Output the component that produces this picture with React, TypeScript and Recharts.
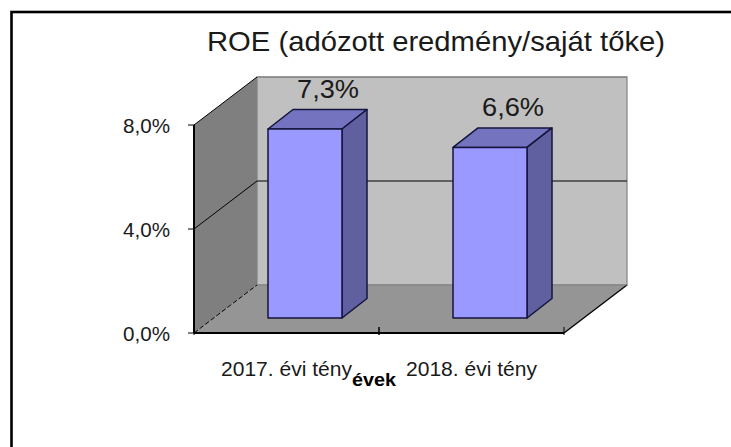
import { Bar, BarChart, CartesianGrid, Label, LabelList, XAxis, YAxis } from "recharts";

const categories = ["2017. évi tény", "2018. évi tény"];
const roeValues = [7.27, 6.56];
const yTicks = [0, 4, 8];
const title = "ROE (adózott eredmény/saját tőke)";
const xAxisTitle = "évek";

const data = categories.map((name, i) => ({ name, roe: roeValues[i] }));

const WIDTH = 731;
const HEIGHT = 447;
const MARGIN = { left: 134, right: 167, top: 125, bottom: 74 };
const Y_AXIS_WIDTH = 60;
const X_AXIS_HEIGHT = 40;

// front plane of the box, as the chart lays it out
const LEFT = MARGIN.left + Y_AXIS_WIDTH;
const RIGHT = WIDTH - MARGIN.right;
const TOP = MARGIN.top;
const BOTTOM = HEIGHT - MARGIN.bottom - X_AXIS_HEIGHT;

// depth of the fake 3D box and of the bars standing inside it
const DEPTH_X = 63;
const DEPTH_Y = -48;
const BAR_SHIFT_X = 18.5;
const BAR_SHIFT_Y = -15;
const BAR_DEPTH_X = 25;
const BAR_DEPTH_Y = -19.5;

const FONT = "'Liberation Sans', Arial, sans-serif";
const TEXT_COLOR = "#1a1a1a";
const pct = (v: number) => v.toFixed(1).replace(".", ",") + "%";

// sits behind the chart's svg, recharts would paint custom children over the axes
function Walls() {
  return (
    <svg width={WIDTH} height={HEIGHT} style={{ position: "absolute", left: 0, top: 0 }}>
      <rect x={11.5} y={12} width={900} height={700} fill="#fff" stroke="#000" strokeWidth={2.6} />
      <text x={436} y={51} textAnchor="middle" fontFamily={FONT} fontSize={28} fill={TEXT_COLOR} textLength={458} lengthAdjust="spacingAndGlyphs">
        {title}
      </text>
      <rect x={LEFT + DEPTH_X} y={TOP + DEPTH_Y} width={RIGHT - LEFT} height={BOTTOM - TOP} fill="#C0C0C0" stroke="#808080" strokeWidth={1.2} />
      <polygon
        points={`${LEFT},${TOP} ${LEFT + DEPTH_X},${TOP + DEPTH_Y} ${LEFT + DEPTH_X},${BOTTOM + DEPTH_Y} ${LEFT},${BOTTOM}`}
        fill="#7F7F7F"
      />
      <polygon
        points={`${LEFT},${BOTTOM} ${LEFT + DEPTH_X},${BOTTOM + DEPTH_Y} ${RIGHT + DEPTH_X},${BOTTOM + DEPTH_Y} ${RIGHT},${BOTTOM}`}
        fill="#959595"
      />
      <line x1={RIGHT} y1={BOTTOM} x2={RIGHT + DEPTH_X} y2={BOTTOM + DEPTH_Y} stroke="#000" strokeWidth={1.4} />
      <line x1={LEFT} y1={TOP} x2={LEFT} y2={BOTTOM} stroke="#000" strokeWidth={2} />
      <line x1={LEFT} y1={BOTTOM} x2={RIGHT} y2={BOTTOM} stroke="#000" strokeWidth={2} />
    </svg>
  );
}

function GridLevel(props: any) {
  const { x1, x2, y1, index } = props;
  const isFloor = index === 0;
  const isMiddle = index === 1;
  return (
    <g>
      <line
        x1={x1}
        y1={y1}
        x2={x1 + DEPTH_X}
        y2={y1 + DEPTH_Y}
        stroke="#000"
        strokeWidth={1}
        strokeDasharray={isFloor ? "5 2" : undefined}
      />
      <line
        x1={x1 + DEPTH_X}
        y1={y1 + DEPTH_Y}
        x2={x2 + DEPTH_X}
        y2={y1 + DEPTH_Y}
        stroke={isMiddle ? "#000" : "#808080"}
        strokeWidth={isMiddle ? 1 : 1.2}
      />
    </g>
  );
}

function Bar3D(props: any) {
  const { x, y, width, height } = props;
  const fx = x + BAR_SHIFT_X;
  const fy = y + BAR_SHIFT_Y;
  const rx = fx + width;
  const by = fy + height;
  const edge = { stroke: "#14143C", strokeWidth: 1.5, strokeLinejoin: "round" as const };
  return (
    <g>
      <polygon
        points={`${fx},${fy} ${fx + BAR_DEPTH_X},${fy + BAR_DEPTH_Y} ${rx + BAR_DEPTH_X},${fy + BAR_DEPTH_Y} ${rx},${fy}`}
        fill="#7373BF"
        {...edge}
      />
      <polygon
        points={`${rx},${fy} ${rx + BAR_DEPTH_X},${fy + BAR_DEPTH_Y} ${rx + BAR_DEPTH_X},${by + BAR_DEPTH_Y} ${rx},${by}`}
        fill="#6060A0"
        {...edge}
      />
      <rect x={fx} y={fy} width={width} height={height} fill="#9999FF" {...edge} />
    </g>
  );
}

function ValueLabel(props: any) {
  const { x, y, width, value } = props;
  return (
    <text
      x={x + BAR_SHIFT_X + width / 2 + 23}
      y={y + BAR_SHIFT_Y - 31}
      textAnchor="middle"
      fontFamily={FONT}
      fontSize={25}
      fill={TEXT_COLOR}
      textLength={62}
      lengthAdjust="spacingAndGlyphs"
    >
      {pct(value)}
    </text>
  );
}

function CategoryTick(props: any) {
  const { x, y, payload } = props;
  const half = payload.offset ?? 92.5;
  const axisY = y - 14;
  return (
    <g>
      <line x1={x - half} y1={axisY} x2={x - half} y2={axisY + 8} stroke="#000" />
      <line x1={x + half} y1={axisY} x2={x + half} y2={axisY + 8} stroke="#000" />
      <text x={x} y={376} textAnchor="middle" fontFamily={FONT} fontSize={19.5} fill={TEXT_COLOR} textLength={131} lengthAdjust="spacingAndGlyphs">
        {payload.value}
      </text>
    </g>
  );
}

function ValueTick(props: any) {
  const { y, payload } = props;
  return (
    <text x={170} y={y + 8} textAnchor="end" fontFamily={FONT} fontSize={19.5} fill={TEXT_COLOR} textLength={47} lengthAdjust="spacingAndGlyphs">
      {pct(payload.value)}
    </text>
  );
}

function AxisTitle(props: any) {
  const cx = props.viewBox.x + props.viewBox.width / 2;
  return (
    <text x={cx - 5} y={386} textAnchor="middle" fontFamily={FONT} fontSize={19} fontWeight="bold" fill="#000" textLength={44} lengthAdjust="spacingAndGlyphs">
      {xAxisTitle}
    </text>
  );
}

export default function App() {
  return (
    <div style={{ position: "absolute", left: 0, top: 0, width: WIDTH, height: HEIGHT, overflow: "hidden", background: "#fff" }}>
      <Walls />
      <div style={{ position: "absolute", left: 0, top: 0 }}>
        <BarChart width={WIDTH} height={HEIGHT} data={data} margin={MARGIN} barCategoryGap="30%">
          <CartesianGrid vertical={false} horizontal={(p: any) => <GridLevel key={p.key} {...p} />} />
          <XAxis
            dataKey="name"
            height={X_AXIS_HEIGHT}
            axisLine={false}
            tickLine={false}
            tick={<CategoryTick />}
            interval={0}
          >
            <Label content={<AxisTitle />} />
          </XAxis>
          <YAxis
            width={Y_AXIS_WIDTH}
            domain={[0, 8]}
            ticks={yTicks}
            stroke="#000"
            axisLine={false}
            tickSize={6}
            tick={<ValueTick />}
          />
          <Bar dataKey="roe" isAnimationActive={false} shape={<Bar3D />}>
            <LabelList dataKey="roe" content={<ValueLabel />} />
          </Bar>
        </BarChart>
      </div>
    </div>
  );
}
